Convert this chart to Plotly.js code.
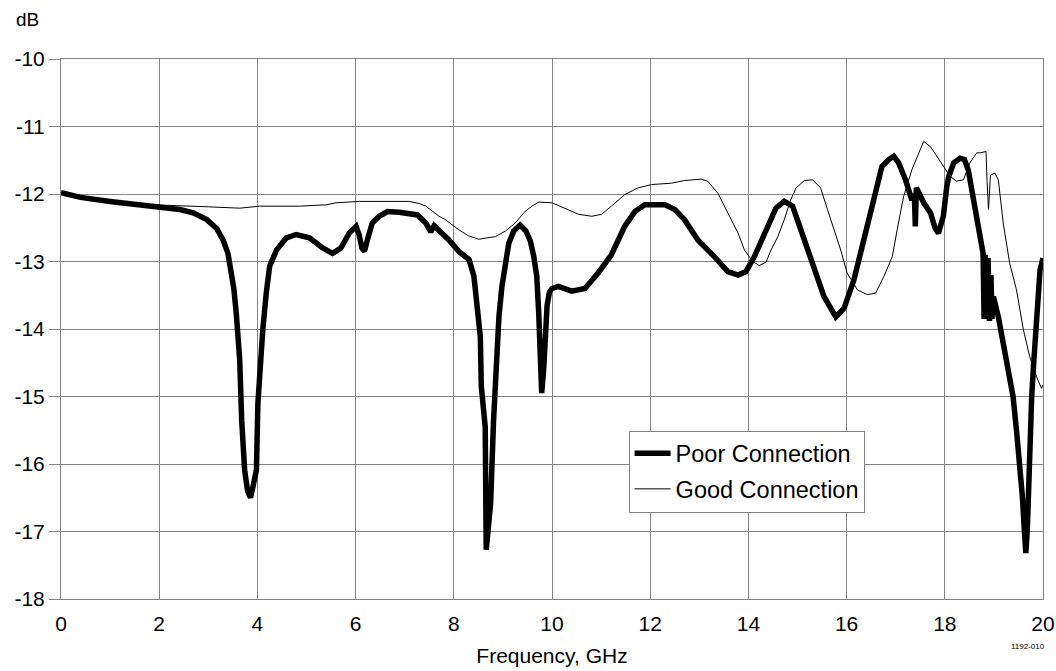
<!DOCTYPE html>
<html>
<head>
<meta charset="utf-8">
<script src="https://cdn.plot.ly/plotly-3.0.1.min.js"></script>
<style>
  html, body { margin: 0; padding: 0; background: #ffffff; }
  #chart { width: 1056px; height: 671px; }
</style>
</head>
<body>
<div id="chart"></div>
<script>
// ---- data ----
const seriesNames = ["Poor Connection", "Good Connection"];

const freqPoor = [
  0, 0.4, 1.0, 1.61, 2.02, 2.42, 2.69, 2.97, 3.17, 3.30,
  3.40, 3.47, 3.52, 3.57, 3.64, 3.68, 3.74, 3.80, 3.86, 3.92,
  3.98, 4.01, 4.05, 4.11, 4.18, 4.25, 4.39, 4.59, 4.79, 5.06,
  5.33, 5.53, 5.70, 5.87, 6.01, 6.07, 6.13, 6.18, 6.25, 6.34,
  6.48, 6.65, 6.89, 7.26, 7.43, 7.53, 7.6, 7.9, 8.1, 8.31,
  8.41, 8.48, 8.54, 8.56, 8.64, 8.66, 8.75, 8.81, 8.85, 8.92,
  8.98, 9.05, 9.12, 9.22, 9.35, 9.47, 9.56, 9.63, 9.69, 9.73,
  9.77, 9.79, 9.83, 9.86, 9.9, 9.95, 10.0, 10.13, 10.40, 10.67,
  10.94, 11.21, 11.48, 11.69, 11.89, 12.30, 12.5, 12.70, 12.97, 13.31,
  13.58, 13.79, 13.95, 14.12, 14.39, 14.56, 14.73, 14.90, 15.02, 15.14,
  15.34, 15.54, 15.78, 15.95, 16.15, 16.36, 16.56, 16.72, 16.86, 16.96,
  17.06, 17.20, 17.33, 17.38, 17.40, 17.42, 17.45, 17.57, 17.71, 17.80,
  17.87, 17.97, 18.04, 18.08, 18.18, 18.31, 18.40, 18.48, 18.55, 18.65,
  18.72, 18.78, 18.80, 18.82, 18.85, 18.88, 18.91, 18.94, 18.96, 18.99,
  19.09, 19.19, 19.29, 19.39, 19.46, 19.53, 19.58, 19.62, 19.65, 19.68,
  19.70, 19.73, 19.77, 19.81, 19.85, 19.90, 19.94, 20.0
];
const dbPoor = [
  -11.98, -12.05, -12.11, -12.16, -12.19, -12.23, -12.28, -12.38, -12.51, -12.68,
  -12.88, -13.17, -13.4, -13.77, -14.46, -15.35, -16.09, -16.4, -16.5, -16.3,
  -16.09, -15.1, -14.6, -14.01, -13.47, -13.07, -12.83, -12.65, -12.6, -12.65,
  -12.8, -12.88, -12.8, -12.58, -12.48, -12.6, -12.8, -12.85, -12.65, -12.43,
  -12.33, -12.26, -12.27, -12.31, -12.43, -12.56, -12.47, -12.68, -12.85, -12.97,
  -13.22, -13.72, -14.11, -14.85, -15.45, -17.27, -16.58, -15.35, -14.6, -13.81,
  -13.37, -13.02, -12.73, -12.55, -12.46, -12.55, -12.7, -12.93, -13.22, -13.77,
  -14.5, -14.95, -14.6, -14.21, -13.65, -13.45, -13.40, -13.37, -13.44, -13.40,
  -13.17, -12.9, -12.48, -12.26, -12.16, -12.16, -12.23, -12.38, -12.68, -12.93,
  -13.15, -13.2, -13.15, -12.93, -12.48, -12.21, -12.11, -12.18, -12.43, -12.68,
  -13.12, -13.52, -13.82, -13.69, -13.27, -12.68, -12.04, -11.59, -11.49, -11.44,
  -11.54, -11.79, -12.09, -12.0, -12.48, -11.91, -11.95, -12.13, -12.28, -12.5,
  -12.58, -12.33, -11.89, -11.74, -11.54, -11.47, -11.49, -11.65, -11.94, -12.38,
  -12.73, -12.88, -13.85, -12.9, -13.85, -12.95, -13.88, -13.2, -13.85, -13.52,
  -13.82, -14.21, -14.51, -15.0, -15.5, -15.99, -16.48, -16.98, -17.32, -16.98,
  -16.48, -15.74, -15.0, -14.51, -14.01, -13.52, -13.12, -12.95
];

const freqGood = [
  0, 0.4, 0.8, 1.5, 2.0, 2.5, 3.0, 3.64, 4.05, 4.86,
  5.4, 5.6, 6.07, 7.09, 7.29, 7.43, 7.7, 7.83, 8.1, 8.3,
  8.51, 8.85, 9.05, 9.25, 9.45, 9.59, 9.73, 10.0, 10.27, 10.54,
  10.81, 11.01, 11.21, 11.48, 11.75, 12.03, 12.43, 12.70, 13.04, 13.17,
  13.38, 13.51, 13.65, 13.79, 13.92, 14.09, 14.22, 14.36, 14.46, 14.6,
  14.73, 14.86, 14.97, 15.14, 15.31, 15.47, 15.61, 15.74, 15.88, 16.01,
  16.22, 16.42, 16.59, 16.76, 16.93, 17.03, 17.16, 17.33, 17.47, 17.57,
  17.71, 17.84, 17.97, 18.11, 18.24, 18.38, 18.51, 18.65, 18.72, 18.84,
  18.86, 18.89, 18.93, 19.02, 19.09, 19.19, 19.32, 19.46, 19.60, 19.73,
  19.87, 19.97, 20.0
];
const dbGood = [
  -12.0, -12.05, -12.09, -12.15, -12.16, -12.17, -12.19, -12.21, -12.18, -12.18,
  -12.16, -12.13, -12.11, -12.11, -12.14, -12.18, -12.33, -12.38, -12.53, -12.62,
  -12.67, -12.63, -12.55, -12.43, -12.26, -12.18, -12.12, -12.13, -12.21, -12.3,
  -12.33, -12.30, -12.18, -12.01, -11.91, -11.86, -11.84, -11.80, -11.78, -11.81,
  -11.99, -12.18, -12.38, -12.58, -12.83, -13.0, -13.06, -13.01, -12.83, -12.63,
  -12.38, -12.09, -11.91, -11.80, -11.79, -11.91, -12.23, -12.53, -12.83, -13.17,
  -13.42, -13.49, -13.47, -13.22, -12.93, -12.53, -12.04, -11.64, -11.39, -11.22,
  -11.30, -11.44, -11.59, -11.74, -11.81, -11.79, -11.54, -11.39, -11.39, -11.37,
  -11.8, -12.23, -11.72, -11.69, -11.79, -12.43, -13.02, -13.42, -14.01, -14.41,
  -14.71, -14.88, -14.83
];

const xTickVals = [0, 2, 4, 6, 8, 10, 12, 14, 16, 18, 20];
const xTickText = ["0", "2", "4", "6", "8", "10", "12", "14", "16", "18", "20"];
const yTickVals = [-10, -11, -12, -13, -14, -15, -16, -17, -18];
const yTickText = ["-10", "-11", "-12", "-13", "-14", "-15", "-16", "-17", "-18"];

// ---- chart ----
const font = "'Liberation Sans', Arial, sans-serif";
const gridCol = "#848484";

const traces = [
  {
    x: freqPoor, y: dbPoor, name: seriesNames[0], type: "scatter", mode: "lines",
    legendgroup: "poor",
    line: { color: "#000000", width: 5.5 }
  },
  {
    x: freqGood, y: dbGood, name: seriesNames[1], type: "scatter", mode: "lines",
    legendgroup: "good",
    line: { color: "#000000", width: 1 }
  }
];

const layout = {
  width: 1056, height: 671,
  margin: { l: 60.5, r: 12.5, t: 59.3, b: 72 },
  paper_bgcolor: "#ffffff", plot_bgcolor: "#ffffff",
  showlegend: true,
  legend: {
    x: 0.578, y: 0.312, xanchor: "left", yanchor: "top",
    bgcolor: "#ffffff", bordercolor: "#808080", borderwidth: 1,
    font: { family: font, size: 23.5, color: "#000000" },
    tracegroupgap: 2, itemwidth: 36
  },
  xaxis: {
    range: [0, 20], tickvals: xTickVals, ticktext: xTickText,
    showgrid: true, gridcolor: gridCol, gridwidth: 1, zeroline: false,
    showline: true, linecolor: gridCol, linewidth: 1, mirror: true,
    ticks: "", ticklabelstandoff: 6,
    tickfont: { family: font, size: 21, color: "#000000" },
    title: { text: "Frequency, GHz", font: { family: font, size: 21, color: "#000000" }, standoff: 14 }
  },
  yaxis: {
    range: [-18, -10], tickvals: yTickVals, ticktext: yTickText,
    showgrid: true, gridcolor: gridCol, gridwidth: 1, zeroline: false,
    showline: true, linecolor: gridCol, linewidth: 1, mirror: true,
    ticks: "outside", ticklen: 11, tickcolor: gridCol, tickwidth: 1,
    tickfont: { family: font, size: 21, color: "#000000" }
  },
  annotations: [
    { text: "dB", xref: "paper", yref: "paper", x: -0.034, y: 1.074, xanchor: "center", yanchor: "middle",
      showarrow: false, font: { family: font, size: 19, color: "#000000" } },
    { text: "1192-010", xref: "paper", yref: "paper", x: 1.004, y: -0.088, xanchor: "right", yanchor: "middle",
      showarrow: false, font: { family: font, size: 8, color: "#000000" } }
  ]
};

Plotly.newPlot("chart", traces, layout, { displayModeBar: false, staticPlot: true });
</script>
</body>
</html>
